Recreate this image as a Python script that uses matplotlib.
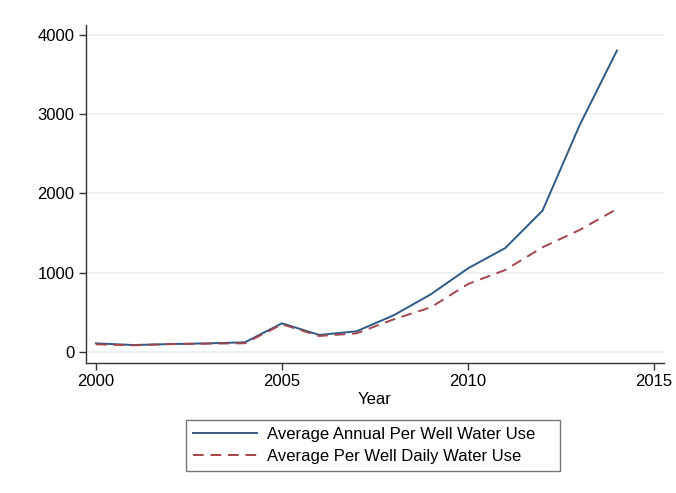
import matplotlib
matplotlib.use("Agg")
import matplotlib.pyplot as plt

years = [2000, 2001, 2002, 2003, 2004, 2005, 2006, 2007, 2008, 2009, 2010, 2011, 2012, 2013, 2014]
annual_use = [109, 88, 100, 109, 122, 362, 215, 261, 463, 728, 1056, 1312, 1783, 2864, 3802]
daily_use = [97, 84, 100, 105, 110, 349, 202, 235, 412, 564, 858, 1035, 1321, 1540, 1804]
x_ticks = [2000, 2005, 2010, 2015]
y_ticks = [0, 1000, 2000, 3000, 4000]

plt.rcParams['font.family'] = ['Liberation Sans', 'DejaVu Sans']

fig = plt.figure(figsize=(6.76, 4.93), dpi=100)
ax = fig.add_axes([0.1266, 0.2643, 0.982 - 0.1266, 0.949 - 0.2643])

ax.plot(years, annual_use, color='#2f5a85', lw=1.4, label='Average Annual Per Well Water Use')
ax.plot(years, daily_use, color='#a3464c', lw=1.4, ls=(0, (5.5, 3.5)), label='Average Per Well Daily Water Use')

ax.set_xlim(1999.72, 2015.26)
ax.set_ylim(-135, 4123)
ax.set_xticks(x_ticks)
ax.set_yticks(y_ticks)
ax.set_yticklabels([str(v) for v in y_ticks])
ax.set_xticklabels([str(v) for v in x_ticks])
ax.grid(axis='y', color='#e8f0f2', lw=1.2)
ax.set_axisbelow(True)
for s in ['top', 'right']:
    ax.spines[s].set_visible(False)
for s in ['left', 'bottom']:
    ax.spines[s].set_color('#333333')
    ax.spines[s].set_linewidth(1.0)
ax.tick_params(axis='both', labelsize=12, length=5, width=1.0, color='#333333', pad=3)
ax.set_xlabel('Year', fontsize=12, labelpad=2)

leg = fig.legend(loc='center', bbox_to_anchor=(0.275, 0.0385, 0.553, 0.1155), mode='expand',
                 fontsize=12, handlelength=3.8, frameon=True, fancybox=False,
                 edgecolor='#555555', borderaxespad=0, labelspacing=0.4, borderpad=0.45,
                 handletextpad=0.6)
leg.get_frame().set_linewidth(1.0)

fig.savefig('out.png', dpi=100, facecolor='white')
